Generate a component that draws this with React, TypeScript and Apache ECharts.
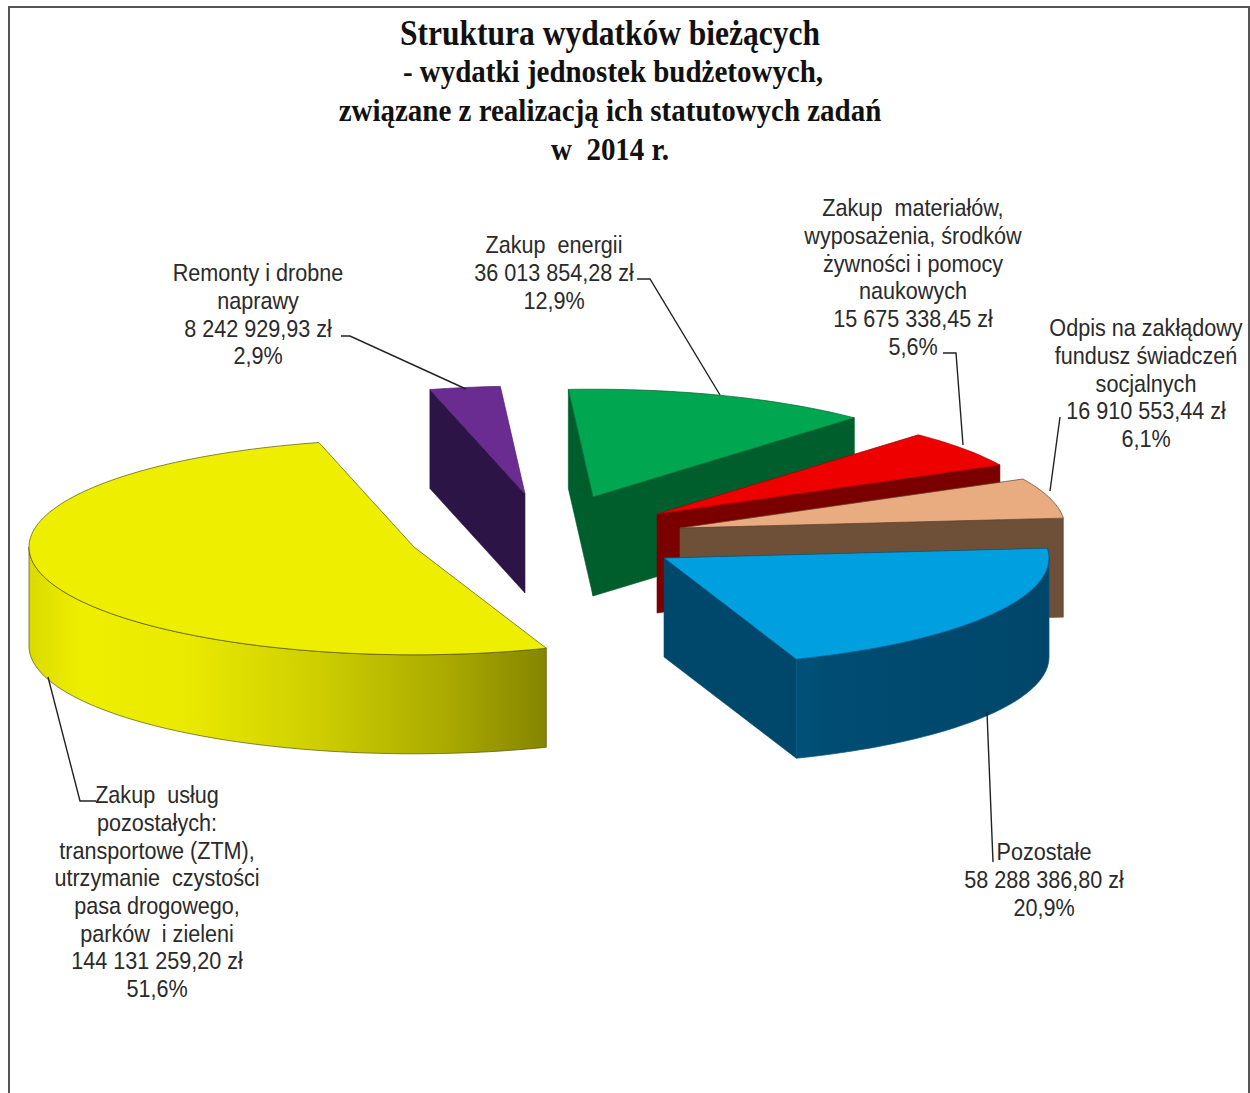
import React, { useEffect, useRef } from "react";
import * as echarts from "echarts";

// ---- data (back-to-front, clockwise from the top of the pie) ----
const categories = [
  "Remonty i drobne\nnaprawy",
  "Zakup  energii",
  "Zakup  materiałów,\nwyposażenia, środków\nżywności i pomocy\nnaukowych",
  "Odpis na zakłądowy\nfundusz świadczeń\nsocjalnych",
  "Pozostałe",
  "Zakup  usług\npozostałych:\ntransportowe (ZTM),\nutrzymanie  czystości\npasa drogowego,\nparków  i zieleni",
];
const values = [8242929.93, 36013854.28, 15675338.45, 16910553.44, 58288386.8, 144131259.2];
const valueLabels = [
  "8 242 929,93 zł",
  "36 013 854,28 zł",
  "15 675 338,45 zł",
  "16 910 553,44 zł",
  "58 288 386,80 zł",
  "144 131 259,20 zł",
];
const percentLabels = ["2,9%", "12,9%", "5,6%", "6,1%", "20,9%", "51,6%"];
const titleLines = [
  "Struktura wydatków bieżących",
  "- wydatki jednostek budżetowych,",
  "związane z realizacją ich statutowych zadań",
  "w  2014 r.",
];

// ---- layout & style (kept apart from the data) ----
const START_ANGLE = -14.3;
const RADIUS = 385;
const SQUASH = 0.28;
const DEPTH = 99;
const explodedCentres = [
  [525, 494],
  [593, 497],
  [657, 514],
  [680, 528],
  [664, 558],
  [414, 547],
];
const topColors = ["#6B2C91", "#00A650", "#EE0000", "#E8AC80", "#00A0E0", "#EEEE00"];
const cutColors = ["#2C1546", "#005E2C", "#7A0000", "#6E5038", "#00486B", "#8A8A00"];
const edgeColors = ["#4A2070", "#00602E", "#A00000", "#5A4030", "#00507A", "#55550A"];
const wallStops = [
  [[0, "#004A6E"], [1, "#004A6E"]],
  [[0, "#004A6E"], [1, "#004A6E"]],
  [[0, "#7A0000"], [1, "#7A0000"]],
  [[0, "#6E5038"], [1, "#6E5038"]],
  [[0, "#00527A"], [0.15, "#004C72"], [1, "#00466A"]],
  [[0, "#DADA00"], [0.1, "#EEEE00"], [0.3, "#EAEA00"], [0.55, "#CFCF00"], [0.8, "#ABAB00"], [1, "#858500"]],
];
const labelAnchors = [
  [258, 259],
  [554, 231],
  [913, 194],
  [1146, 314],
  [1044, 838],
  [157, 781],
];
const leaderLines = [
  [[341, 336], [350, 336], [466, 389]],
  [[637, 279], [650, 279], [720, 395]],
  [[943, 353], [956, 353], [963, 445]],
  [[1060, 417], [1050, 491]],
  [[987, 712], [993, 862]],
  [[48, 677], [80, 801], [96, 801]],
];
const titleSpecs = [
  { x: 610, y: 33, size: 35, squeeze: 0.9 },
  { x: 613, y: 72, size: 32, squeeze: 0.906 },
  { x: 610, y: 111, size: 32, squeeze: 0.906 },
  { x: 610, y: 150, size: 32, squeeze: 0.906 },
];
const LABEL_SQUEEZE = 0.9;

const total = values.reduce((a, b) => a + b, 0);
const rad = (d: number) => (d * Math.PI) / 180;

function renderSlice(params: any, api: any) {
  const i = params.dataIndex;
  const before = values.slice(0, i).reduce((a, b) => a + b, 0);
  const a0 = START_ANGLE + (before / total) * 360;
  const a1 = a0 + (api.value(0) / total) * 360;
  const [cx, cy] = explodedCentres[i];
  const pt = (a: number, dz = 0): number[] => [
    cx + RADIUS * Math.sin(rad(a)),
    cy - RADIUS * SQUASH * Math.cos(rad(a)) + dz,
  ];
  const arc = (from: number, to: number, dz = 0) => {
    const n = Math.max(2, Math.ceil(Math.abs(to - from) / 1.5));
    const out: number[][] = [];
    for (let k = 0; k <= n; k++) out.push(pt(from + ((to - from) * k) / n, dz));
    return out;
  };
  const children: any[] = [];
  const cutFace = (a: number) => ({
    type: "polygon",
    shape: { points: [[cx, cy], pt(a), pt(a, DEPTH), [cx, cy + DEPTH]] },
    style: { fill: cutColors[i], stroke: cutColors[i], lineWidth: 0.6 },
  });
  if (Math.sin(rad(a0)) < 0) children.push(cutFace(a0));
  if (Math.sin(rad(a1)) > 0) children.push(cutFace(a1));
  const w0 = Math.max(a0, 90);
  const w1 = Math.min(a1, 270);
  if (w1 > w0) {
    const stops = wallStops[i].map(([offset, color]) => ({ offset, color }));
    children.push({
      type: "polygon",
      shape: { points: [...arc(w0, w1), ...arc(w1, w0, DEPTH)] },
      style: {
        fill: new echarts.graphic.LinearGradient(0, 0, 1, 0, stops as any),
        stroke: edgeColors[i],
        lineWidth: 0.7,
      },
    });
  }
  children.push({
    type: "polygon",
    shape: { points: [[cx, cy], ...arc(a0, a1)] },
    style: { fill: topColors[i], stroke: edgeColors[i], lineWidth: 0.7 },
  });
  return { type: "group", children };
}

export default function App() {
  const ref = useRef<HTMLDivElement>(null);
  useEffect(() => {
    if (!ref.current) return;
    const chart = echarts.init(ref.current, undefined, { renderer: "svg" });
    const labelFont = "'Liberation Sans', Arial, sans-serif";
    chart.setOption({
      animation: false,
      backgroundColor: "#ffffff",
      series: [
        {
          type: "custom",
          coordinateSystem: "none",
          silent: true,
          data: values.map((v, i) => ({ name: categories[i], value: [v] })),
          renderItem: renderSlice,
        },
      ],
      graphic: [
        {
          type: "polyline",
          shape: { points: [[9, 1093], [9, 7], [1249, 7], [1249, 1093]] },
          style: { fill: "none", stroke: "#555555", lineWidth: 2 },
          silent: true,
          z: 10,
        },
        ...titleLines.map((text, i) => ({
          type: "text",
          x: titleSpecs[i].x,
          y: titleSpecs[i].y,
          scaleX: titleSpecs[i].squeeze,
          silent: true,
          z: 30,
          style: {
            text,
            align: "center",
            verticalAlign: "middle",
            fontFamily: "'Liberation Serif', 'Times New Roman', serif",
            fontWeight: "bold",
            fontSize: titleSpecs[i].size,
            fill: "#111111",
          },
        })),
        ...leaderLines.map((points) => ({
          type: "polyline",
          shape: { points },
          style: { fill: "none", stroke: "#222222", lineWidth: 1.4 },
          silent: true,
          z: 20,
        })),
        ...categories.map((c, i) => ({
          type: "text",
          x: labelAnchors[i][0],
          y: labelAnchors[i][1],
          scaleX: LABEL_SQUEEZE,
          silent: true,
          z: 30,
          style: {
            text: `${c}\n${valueLabels[i]}\n${percentLabels[i]}`,
            align: "center",
            verticalAlign: "top",
            fontFamily: labelFont,
            fontSize: 24,
            lineHeight: 27.7,
            fill: "#2A2A2A",
          },
        })),
      ],
    });
    return () => chart.dispose();
  }, []);
  return (
    <div
      ref={ref}
      style={{ position: "fixed", left: 0, top: 0, width: 1250, height: 1093, background: "#fff" }}
    />
  );
}
